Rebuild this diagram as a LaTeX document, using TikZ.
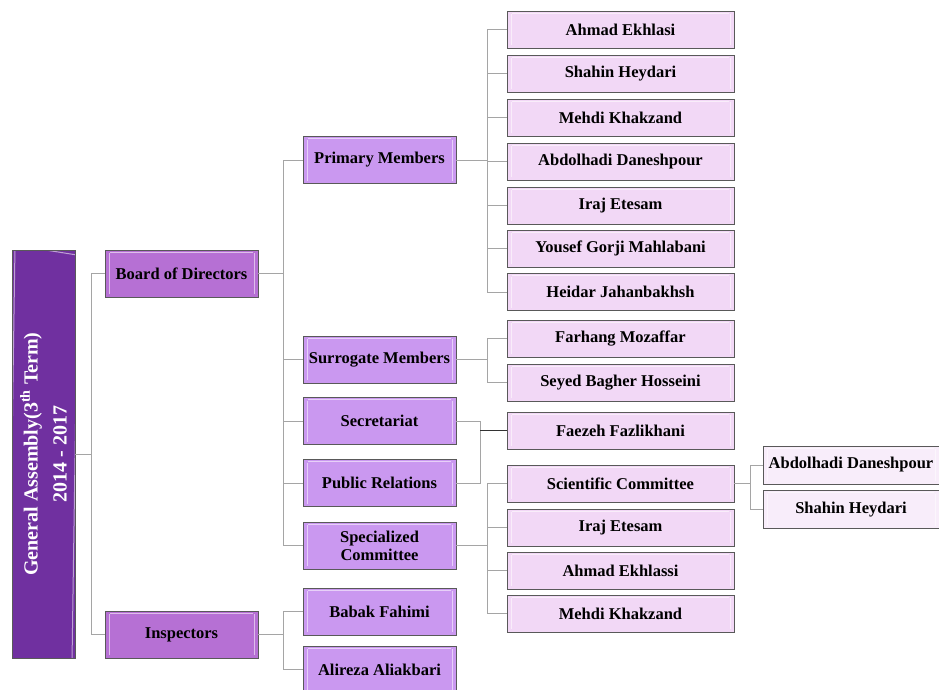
\documentclass[tikz,border=0pt]{standalone}
\usepackage{fontspec}
\setmainfont{Liberation Serif}
\usetikzlibrary{positioning}

\definecolor{gapurple}{RGB}{112,48,160}
\definecolor{lvlone}{RGB}{182,112,212}
\definecolor{lvltwo}{RGB}{202,152,240}
\definecolor{lvlthree}{RGB}{242,216,246}
\definecolor{lvlfour}{RGB}{248,237,250}
\definecolor{linkgray}{RGB}{165,165,165}

\tikzset{
  orgbox/.style={draw=black!65, line width=0.8pt, inner sep=2pt, align=center,
    font=\fontsize{16.5}{18}\selectfont\bfseries,
    path picture={
      \draw[white, opacity=.55, line width=1pt]
        ([xshift=4pt,yshift=-3pt]path picture bounding box.north west) -- ([xshift=4pt,yshift=3pt]path picture bounding box.south west)
        ([xshift=-4pt,yshift=-3pt]path picture bounding box.north east) -- ([xshift=-4pt,yshift=3pt]path picture bounding box.south east)
        ([xshift=5pt,yshift=-2pt]path picture bounding box.north west) -- ([xshift=-5pt,yshift=-2pt]path picture bounding box.north east);
    }},
  gabox/.style={orgbox, fill=gapurple, text=white, rotate=90,
    minimum width=408pt, minimum height=63pt,
    font=\fontsize{20}{29}\selectfont\bfseries},
  boxone/.style={orgbox, fill=lvlone, minimum width=153pt, minimum height=47pt},
  boxtwo/.style={orgbox, fill=lvltwo, minimum width=153pt, minimum height=47pt},
  boxthree/.style={orgbox, fill=lvlthree, minimum width=227pt, minimum height=37pt},
  boxfour/.style={orgbox, fill=lvlfour, minimum width=176pt, minimum height=38pt},
  link/.style={draw=linkgray, line width=1pt},
  darklink/.style={draw=black!80, line width=1pt}
}

\begin{document}
\begin{tikzpicture}[x=1pt,y=-1pt]
  \useasboundingbox (0,0) rectangle (939,689);

  % left column
  \node[gabox] (ga) at (43.5,454) {General Assembly(3\textsuperscript{th} Term)\\2014 - 2017};
  \node[boxone] (board) at (181.5,273.5) {Board of Directors};
  \node[boxone] (insp) at (181.5,634.5) {Inspectors};

  % second column
  \node[boxtwo] (prim) at (379.5,160) {Primary Members};
  \node[boxtwo] (surr) at (379.5,359.5) {Surrogate Members};
  \node[boxtwo] (secr) at (379.5,421) {Secretariat};
  \node[boxtwo] (pubrel) at (379.5,483) {Public Relations};
  \node[boxtwo] (spec) at (379.5,545.5) {Specialized\\Committee};
  \node[boxtwo] (babak) at (379.5,611.5) {Babak Fahimi};
  \node[boxtwo] (alireza) at (379.5,669.5) {Alireza Aliakbari};

  % third column
  \node[boxthree] (ahmad) at (620.5,29.5) {Ahmad Ekhlasi};
  \node[boxthree] (shahin) at (620.5,73.5) {Shahin Heydari};
  \node[boxthree] (mehdi) at (620.5,117.5) {Mehdi Khakzand};
  \node[boxthree] (abdol) at (620.5,161.5) {Abdolhadi Daneshpour};
  \node[boxthree] (iraj) at (620.5,205.5) {Iraj Etesam};
  \node[boxthree] (yousef) at (620.5,248.5) {Yousef Gorji Mahlabani};
  \node[boxthree] (heidar) at (620.5,292) {Heidar Jahanbakhsh};
  \node[boxthree] (farhang) at (620.5,338.5) {Farhang Mozaffar};
  \node[boxthree] (seyed) at (620.5,382.5) {Seyed Bagher Hosseini};
  \node[boxthree] (faezeh) at (620.5,430.5) {Faezeh Fazlikhani};
  \node[boxthree] (scient) at (620.5,483.5) {Scientific Committee};
  \node[boxthree] (irajb) at (620.5,527.5) {Iraj Etesam};
  \node[boxthree] (ahmadb) at (620.5,570.5) {Ahmad Ekhlassi};
  \node[boxthree] (mehdib) at (620.5,613.5) {Mehdi Khakzand};

  % fourth column
  \node[boxfour] (abdolb) at (851,465) {Abdolhadi Daneshpour};
  \node[boxfour] (shahinb) at (851,509.5) {Shahin Heydari};

  % connectors
  \foreach \child in {board,insp}
    \draw[link] (ga.south) -- ++(16,0) |- (\child.west);
  \foreach \child in {prim,surr,secr,pubrel,spec}
    \draw[link] (board.east) -- ++(25,0) |- (\child.west);
  \foreach \child in {babak,alireza}
    \draw[link] (insp.east) -- ++(25,0) |- (\child.west);
  \foreach \child in {ahmad,shahin,mehdi,abdol,iraj,yousef,heidar}
    \draw[link] (prim.east) -- ++(31,0) |- (\child.west);
  \foreach \child in {farhang,seyed}
    \draw[link] (surr.east) -- ++(31,0) |- (\child.west);
  \foreach \child in {scient,irajb,ahmadb,mehdib}
    \draw[link] (spec.east) -- ++(31,0) |- (\child.west);
  \foreach \child in {abdolb,shahinb}
    \draw[link] (scient.east) -- ++(16,0) |- (\child.west);

  \coordinate (sp) at (480,430.5);
  \draw[link] (secr.east) -- (secr.east -| sp) -- (pubrel.east -| sp) -- (pubrel.east);
  \draw[darklink] (sp) -- (faezeh.west);
\end{tikzpicture}
\end{document}
